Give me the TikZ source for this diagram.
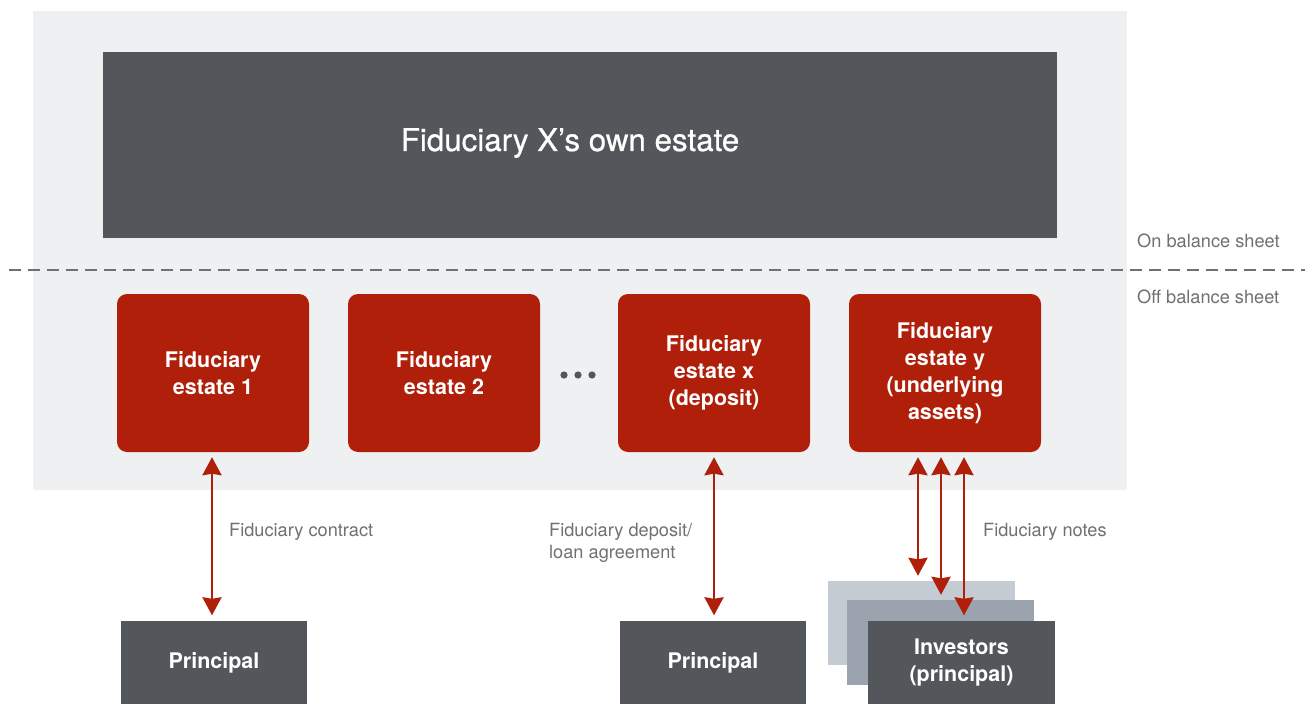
\documentclass[tikz,border=0pt]{standalone}
\usepackage{fontspec}
\setmainfont{TeX Gyre Heros}
\newfontfamily\titlefont[FakeBold=0.7]{TeX Gyre Heros}
\usetikzlibrary{arrows.meta}
\definecolor{panel}{HTML}{EFF0F2}
\definecolor{slate}{HTML}{53565A}
\definecolor{estred}{HTML}{AF1F0A}
\definecolor{stackA}{HTML}{C5CBD3}
\definecolor{stackB}{HTML}{9AA3AE}
\definecolor{labelgray}{HTML}{707070}
\tikzset{
  estatebox/.style={fill=estred, rounded corners=10pt, text=white, align=center,
    font=\fontsize{21.5}{27}\selectfont\bfseries, inner sep=0pt},
  darkbox/.style={fill=slate, text=white, align=center,
    font=\fontsize{21.5}{27}\selectfont\bfseries, inner sep=0pt},
  sidelabel/.style={text=labelgray, anchor=west, align=left,
    font=\fontsize{18.2}{22}\selectfont, inner sep=0pt},
  tip/.tip={Stealth[length=18pt,width=19pt,inset=1.5pt]},
  link/.style={estred, line width=2.6pt, tip-tip, shorten <=5pt, shorten >=5pt},
}
\begin{document}
\begin{tikzpicture}[x=1pt,y=-1pt]
\useasboundingbox (0,0) rectangle (1310,704);
% on/off balance sheet panel
\fill[panel] (33,11) rectangle (1127,490);
% the fiduciary's own estate
\node[fill=slate, minimum width=954pt, minimum height=186pt, inner sep=0pt] (own) at (580,145) {};
\node[text=white, inner sep=0pt, font=\titlefont\fontsize{31.3}{36}\selectfont] (ownlbl) at (570,143) {Fiduciary X’s own estate};
% balance sheet divider
\draw[labelgray, line width=1.5pt, dash pattern=on 12pt off 7pt] (9,270) -- (1305,270);
\node[sidelabel] (on)  at (1137,241) {On balance sheet};
\node[sidelabel] (off) at (1137,297) {Off balance sheet};
% fiduciary estates
\node[estatebox, minimum width=192pt, minimum height=158pt] (e1) at (213,373) {Fiduciary\\estate 1};
\node[estatebox, minimum width=192pt, minimum height=158pt] (e2) at (444,373) {Fiduciary\\estate 2};
\node[estatebox, minimum width=192pt, minimum height=158pt] (ex) at (714,373) {Fiduciary\\estate x\\(deposit)};
\node[estatebox, minimum width=192pt, minimum height=158pt] (ey) at (945,373) {Fiduciary\\estate y\\(underlying\\assets)};
% ellipsis between estates
\foreach \d [count=\i] in {564,578,592}
  \fill[slate] (\d,375) circle (3.6pt) coordinate (dot\i);
% principals
\node[darkbox, minimum width=186pt, minimum height=84pt] (p1) at (214,662.5) {Principal};
\node[darkbox, minimum width=186pt, minimum height=84pt] (p2) at (713,662.5) {Principal};
% investors stack
\node[fill=stackA, minimum width=187pt, minimum height=84pt, inner sep=0pt] (s1) at (921.5,623) {};
\node[fill=stackB, minimum width=187pt, minimum height=85pt, inner sep=0pt] (s2) at (940.5,642.5) {};
\node[darkbox, minimum width=187pt, minimum height=84pt] (inv) at (961.5,662.5) {Investors\\(principal)};
% relationships
\coordinate (a1t) at (212,452);
\draw[link] (e1.south -| a1t) -- (p1.north -| a1t);
\draw[link] (ex.south) -- (p2.north -| ex.south);
\coordinate (n1) at (918,0);
\coordinate (n2) at (941,0);
\coordinate (n3) at (964,0);
\draw[link] (ey.south -| n1) -- (s1.north -| n1);
\draw[link] (ey.south -| n2) -- (s2.north -| n2);
\draw[link] (ey.south -| n3) -- (inv.north -| n3);
\node[sidelabel] (lc) at (229,532) {Fiduciary contract};
\node[sidelabel] (ld) at (549,543) {Fiduciary deposit/\\loan agreement};
\node[sidelabel] (ln) at (983,532) {Fiduciary notes};
\end{tikzpicture}
\end{document}
